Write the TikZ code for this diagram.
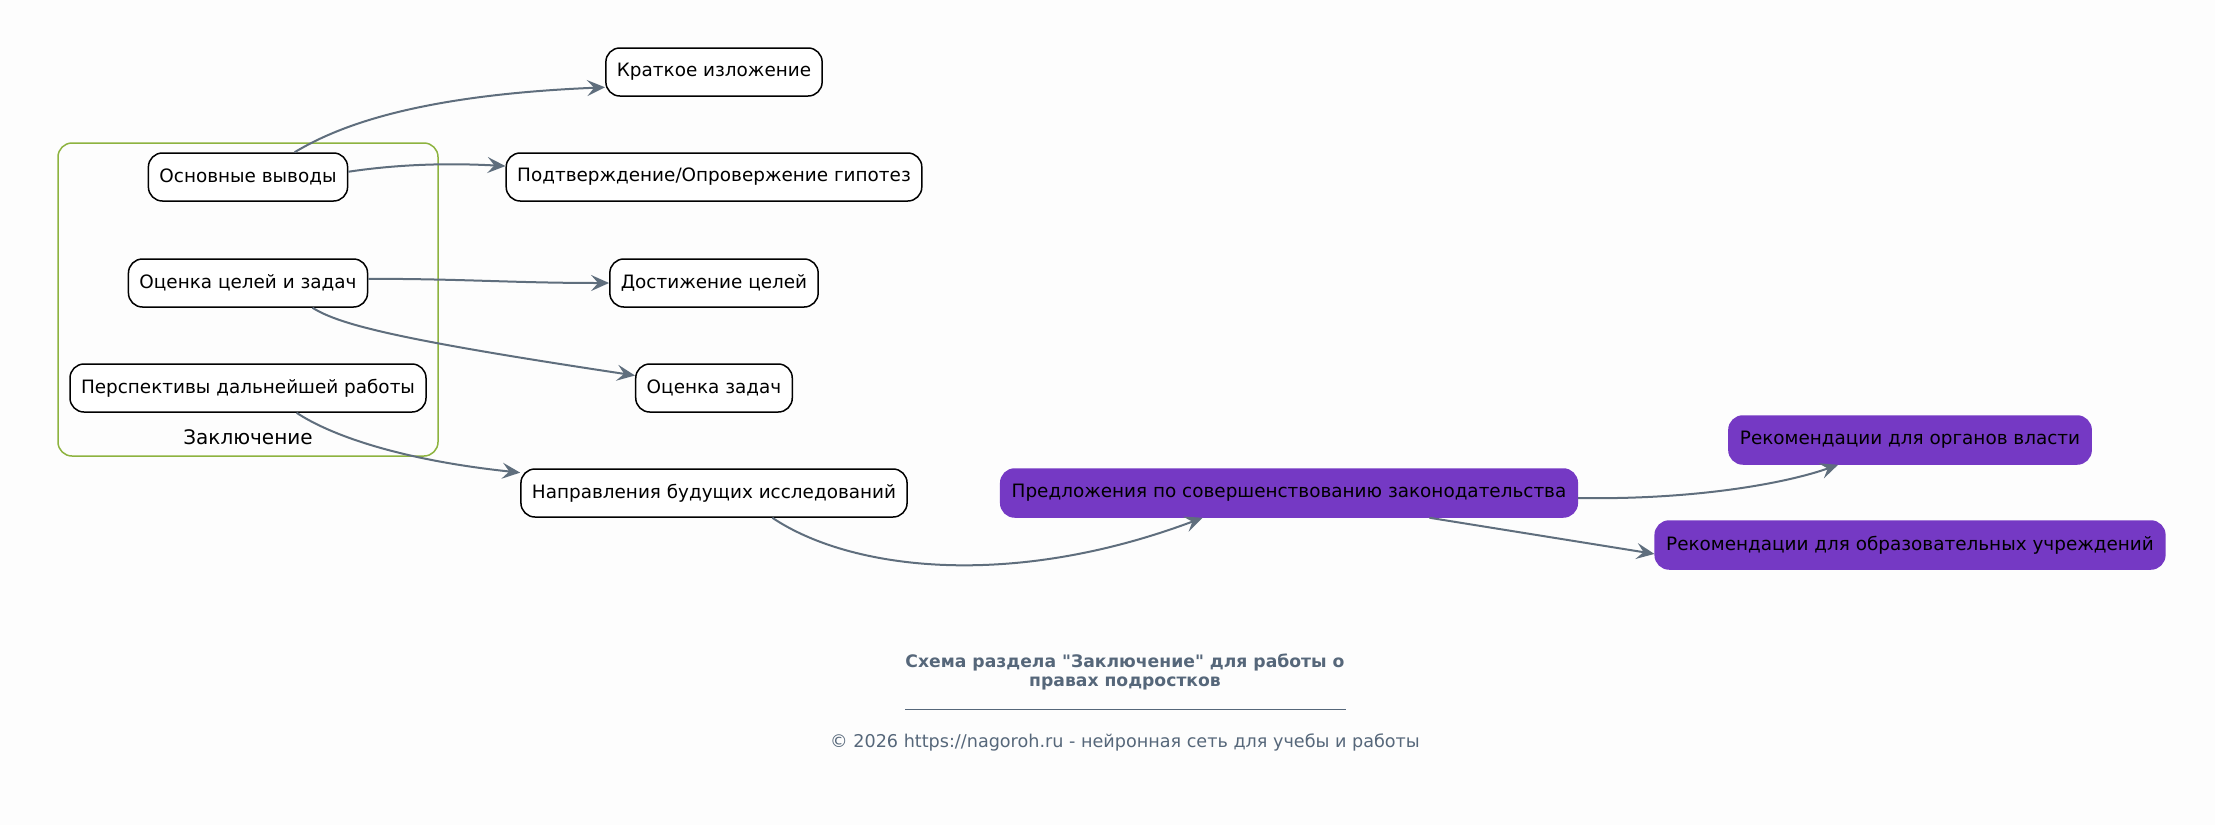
\documentclass[tikz,border=0pt]{standalone}
\usepackage{fontspec}
\setmainfont{DejaVu Sans}[Ligatures=TeXOff]
\usetikzlibrary{arrows.meta}
\definecolor{edgegray}{HTML}{5F6E7D}
\definecolor{propurple}{HTML}{7539C4}
\definecolor{clustergreen}{HTML}{8DB33F}
\definecolor{footgray}{HTML}{56677A}
\definecolor{paper}{HTML}{FDFDFD}
\tikzset{
  box/.style={draw=black, line width=0.75pt, rounded corners=7pt, fill=white,
    minimum height=24pt, inner xsep=5.5pt, font=\fontsize{9.2}{11}\selectfont},
  purplebox/.style={box, draw=propurple, fill=propurple},
  link/.style={draw=edgegray, line width=1pt,
    -{Stealth[length=9pt,width=8pt,inset=3.5pt]}},
}
\begin{document}
\begin{tikzpicture}[x=0.5pt,y=-0.5pt]
    \fill[paper] (0,0) rectangle (2215,825);
    \useasboundingbox (0,0) rectangle (2215,825);
    % cluster
    \draw[clustergreen, line width=0.75pt, rounded corners=7pt] (58,143) rectangle (438,456);
    \node[font=\fontsize{10}{12}\selectfont] (zakl) at (248,437) {Заключение};
    \node[box] (vyv) at (248,177) {Основные выводы};
    \node[box] (oc) at (248,283) {Оценка целей и задач};
    \node[box] (persp) at (248,388) {Перспективы дальнейшей работы};
    % targets
    \node[box] (krat) at (714,72) {Краткое изложение};
    \node[box] (podt) at (714,177) {Подтверждение/Опровержение гипотез};
    \node[box] (dost) at (714,283) {Достижение целей};
    \node[box] (ocz) at (714,388) {Оценка задач};
    \node[box] (napr) at (714,493) {Направления будущих исследований};
    \node[purplebox] (pred) at (1289,493) {Предложения по совершенствованию законодательства};
    \node[purplebox] (org) at (1910,440) {Рекомендации для органов власти};
    \node[purplebox] (obr) at (1910,545) {Рекомендации для образовательных учреждений};
    % links
    \draw[link] (vyv.28) .. controls (340,125) and (420,95) .. (krat.188);
    \draw[link] (vyv.3) .. controls (400,164) and (450,163) .. (podt.177);
    \draw[link] (oc.2) to[out=0,in=180] (dost.west);
    \draw[link] (oc.-21) .. controls (340,325) and (400,340) .. (ocz.171);
    \draw[link] (persp.-27) .. controls (330,435) and (400,460) .. (napr.174);
    \draw[link] (napr.-23) .. controls (850,570) and (1010,590) .. (pred.-164);
    \draw[link] (pred.-1) .. controls (1700,500) and (1790,482) .. (org.199);
    \draw[link] (pred.-10) -- (obr.182);
    % footer
    \node[font=\bfseries\fontsize{8.6}{9.8}\selectfont, text=footgray, align=center] (ttl) at (1125,672)
      {Схема раздела "Заключение" для работы о\\правах подростков};
    \draw[footgray, line width=0.5pt] (905,709) -- (1346,709);
    \node[font=\fontsize{8.8}{10}\selectfont, text=footgray] (copy) at (1125,742)
      {© 2026 https://nagoroh.ru - нейронная сеть для учебы и работы};
\end{tikzpicture}
\end{document}
